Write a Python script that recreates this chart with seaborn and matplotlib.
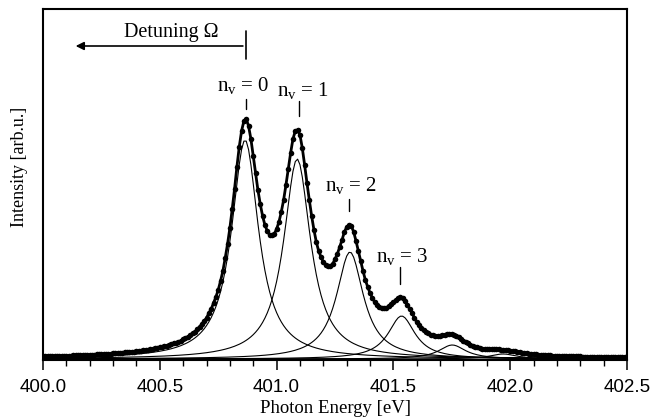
import numpy as np
import matplotlib
matplotlib.use("Agg")
import matplotlib.pyplot as plt
from matplotlib.ticker import MultipleLocator, FormatStrFormatter
import seaborn as sns
import pandas as pd

# Measured spectrum: photon energy grid 400.00 ... 402.50 eV in 0.01 eV steps
energy_start = 400.0
energy_step = 0.01
# Intensity (arb.u. x 100)
intensity_raw = [
    3, 3, 3, 3, 3, 3, 3, 3, 3, 3, 3, 3, 3, 4, 4, 4, 4, 4, 4, 4, 4, 4, 4, 5, 5, 5, 5, 5, 5, 5,
    6, 6, 6, 6, 6, 7, 7, 7, 7, 7, 8, 8, 8, 9, 9, 9, 10, 10, 11, 11, 12, 12, 13, 13, 14, 15, 16, 16, 17, 18,
    20, 21, 22, 24, 26, 27, 30, 32, 35, 38, 41, 46, 50, 56, 62, 69, 78, 88, 101, 115, 131, 150, 170, 192, 212, 228, 238, 240, 233, 220,
    203, 186, 169, 155, 143, 134, 128, 124, 124, 125, 130, 137, 147, 159, 174, 190, 206, 220, 228, 229, 224, 211, 194, 176, 159, 143, 129, 117, 108, 102,
    97, 94, 93, 93, 95, 100, 105, 112, 119, 127, 132, 134, 133, 127, 118, 108, 98, 88, 79, 72, 66, 61, 57, 54, 52, 51, 51, 51, 53, 55,
    57, 59, 61, 62, 61, 58, 54, 50, 46, 41, 37, 34, 31, 29, 27, 26, 24, 24, 23, 23, 23, 24, 24, 25, 25, 25, 24, 23, 22, 20,
    18, 17, 16, 14, 13, 12, 12, 11, 10, 10, 10, 10, 10, 10, 10, 10, 9, 9, 9, 9, 8, 8, 8, 7, 7, 6, 6, 6, 5, 5,
    5, 5, 4, 4, 4, 4, 4, 4, 3, 3, 3, 3, 3, 3, 3, 3, 3, 3, 3, 3, 3, 2, 2, 2, 2, 2, 2, 2, 2, 2,
    2, 2, 2, 2, 2, 2, 2, 2, 2, 2, 2,
]

# Fitted vibrational components (Lorentzian): centre [eV], height [arb.u.], HWHM [eV]
centers = [400.865, 401.088, 401.314, 401.535, 401.752, 401.970]
heights = [2.19, 2.00, 1.07, 0.43, 0.14, 0.05]
hwhm = [0.07, 0.07, 0.07, 0.07, 0.07, 0.07]
peak_labels = ['0', '1', '2', '3']

sns.set_style("ticks")
plt.rcParams['font.family'] = ['Liberation Serif', 'DejaVu Serif']
plt.rcParams['text.color'] = 'black'
plt.rcParams['axes.labelcolor'] = 'black'
plt.rcParams['xtick.color'] = 'black'
plt.rcParams['ytick.color'] = 'black'

energy = np.round(energy_start + energy_step * np.arange(len(intensity_raw)), 2)
intensity = np.array(intensity_raw) / 100.0
df = pd.DataFrame({'energy': energy, 'intensity': intensity})

fig = plt.figure(figsize=(6.67, 4.19), dpi=100)
ax = fig.add_axes([43/667, 1-360/419, (627-43)/667, (360-9)/419])

for c, h, g in zip(centers, heights, hwhm):
    comp = h / (1 + ((energy - c) / g) ** 2)
    sns.lineplot(x=energy, y=comp, ax=ax, color='black', lw=0.8)
sns.lineplot(data=df, x='energy', y='intensity', ax=ax, color='black', lw=2.0,
             marker='o', markersize=4, markeredgewidth=0)

ax.set_xlim(400.0, 402.5)
ax.set_ylim(-0.01, 3.50)
ax.xaxis.set_major_locator(MultipleLocator(0.5))
ax.xaxis.set_minor_locator(MultipleLocator(0.1))
ax.xaxis.set_major_formatter(FormatStrFormatter('%.1f'))
ax.tick_params(axis='x', which='major', direction='out', length=7.5, width=1.1, labelsize=13.5, pad=6,
               colors='black')
ax.tick_params(axis='x', which='minor', direction='out', length=4, width=1.0, colors='black')
ax.tick_params(axis='y', left=False, labelleft=False)
for lab in ax.get_xticklabels():
    lab.set_fontfamily('Liberation Sans')
for s in ax.spines.values():
    s.set_visible(True)
    s.set_linewidth(1.5)
    s.set_color('black')

ax.set_xlabel('Photon Energy [eV]', fontsize=13.5, labelpad=3, color='black')
ax.set_ylabel('Intensity [arb.u.]', fontsize=13, color='black')
ax.yaxis.set_label_coords(-0.026, 0.55)

ax.annotate('', xy=(400.128, 3.13), xytext=(400.8675, 3.13),
            arrowprops=dict(arrowstyle='-|>', color='black', lw=1.2, mutation_scale=12))
ax.plot([400.8675, 400.8675], [3.00, 3.28], color='black', lw=1.2)
ax.text(400.547, 3.22, 'Detuning Ω', fontsize=14.5, ha='center', va='baseline', color='black')

label_pos = [(400.855, 2.68, 400.8675, 2.60, 2.50),
             (401.113, 2.63, 401.094, 2.58, 2.43),
             (401.320, 1.68, 401.312, 1.60, 1.48),
             (401.538, 0.97, 401.530, 0.92, 0.75)]
for (tx, ty, lx, ly0, ly1), n in zip(label_pos, peak_labels):
    ax.text(tx, ty, r'n$_{\mathregular{v}}$ = ' + n, fontsize=15, ha='center', va='baseline',
            color='black')
    ax.plot([lx, lx], [ly0, ly1], color='black', lw=1.0)

fig.savefig('out.png', dpi=100)
